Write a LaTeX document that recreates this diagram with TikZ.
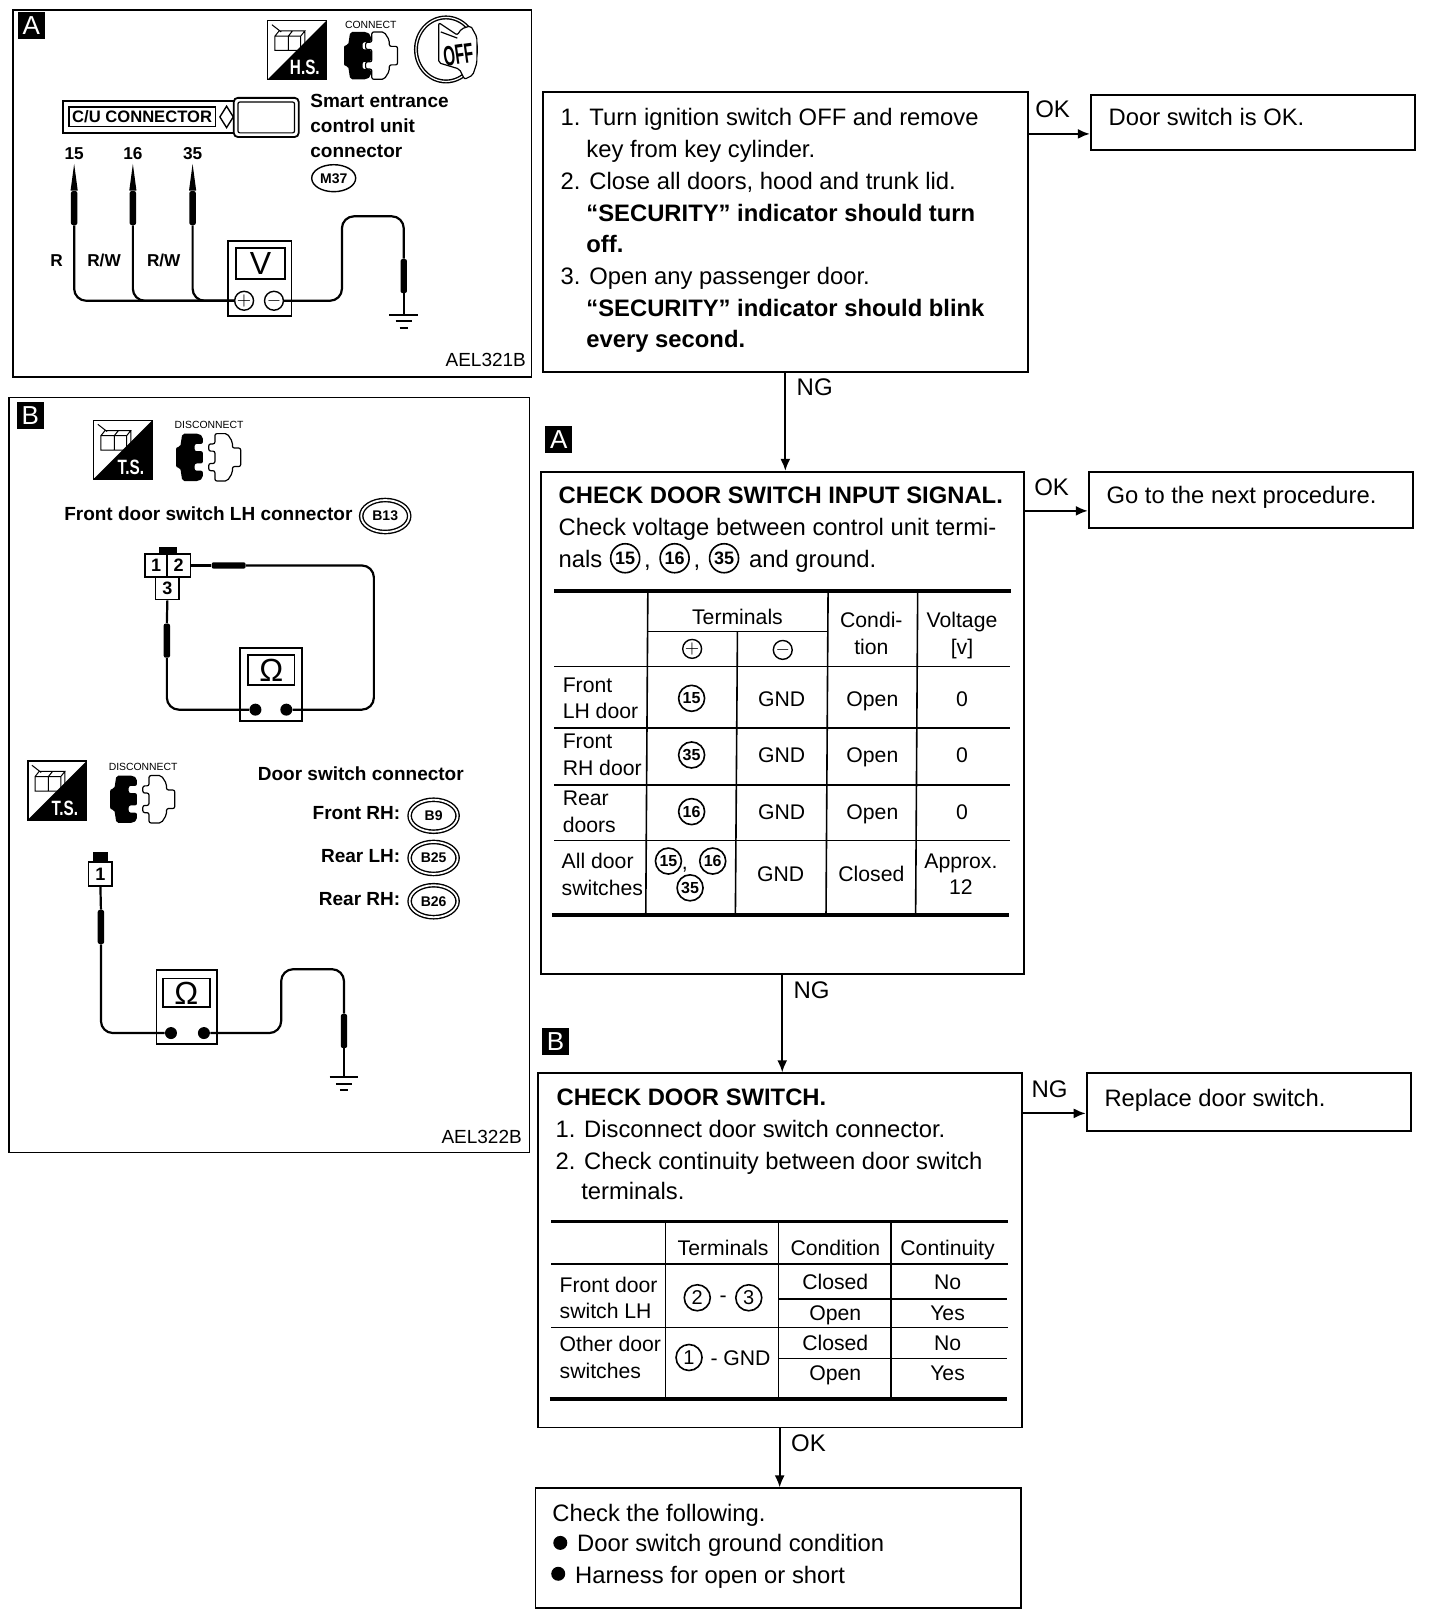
\documentclass[tikz,border=0pt]{standalone}
\usepackage{fontspec}
\setmainfont{Liberation Sans}
\usepackage{amsmath,amssymb}
\usetikzlibrary{arrows.meta,fit,shapes.geometric}

\tikzset{
	box/.style={draw,line width=0.9pt,inner sep=0pt},
	txt/.style={anchor=base west,inner sep=0pt,font=\fontsize{11.9}{14}\selectfont},
	btxt/.style={txt,font=\fontsize{11.9}{14}\selectfont\bfseries},
	panel/.style={anchor=base west,inner sep=0pt,font=\fontsize{9.5}{12}\selectfont\bfseries},
	cell/.style={inner sep=0pt,align=center,font=\fontsize{10.6}{13.2}\selectfont},
	cellb/.style={cell,anchor=base},
	rowhead/.style={cell,anchor=west,align=left},
	okno/.style={inner sep=0pt,font=\fontsize{12}{14}\selectfont},
	tag/.style={fill=black,text=white,inner sep=0pt,minimum size=13.5pt,font=\fontsize{13}{14}\selectfont},
	tiny/.style={inner sep=0pt,font=\fontsize{5.2}{6}\selectfont},
	iconlab/.style={text=white,inner sep=0pt,font=\fontsize{9}{10}\selectfont\bfseries},
	small/.style={inner sep=0pt,font=\fontsize{8.6}{10}\selectfont\bfseries},
	pinno/.style={inner sep=0pt,font=\fontsize{9}{10}\selectfont\bfseries},
	read/.style={inner sep=0pt,font=\fontsize{16}{17}\selectfont},
	flow/.style={line width=0.9pt,-{Latex[length=6pt,width=5pt]}},
	rule/.style={line width=0.8pt},
	fatrule/.style={line width=1.9pt},
	wire/.style={line width=1.1pt,rounded corners=6pt},
	probe/.style={fill=black,rounded corners=1pt,inner sep=0pt,minimum width=3.2pt,minimum height=17pt},
	term/.style={circle,draw,line width=0.8pt,inner sep=0pt,minimum size=13pt,font=\fontsize{8}{9}\selectfont\bfseries},
	numb/.style={term,font=\fontsize{10}{11}\selectfont},
	sign/.style={circle,draw,line width=0.7pt,inner sep=0pt,minimum size=8.5pt,font=\fontsize{9}{9}\selectfont},
	pole/.style={circle,fill=black,inner sep=0pt,minimum size=6pt},
	unit/.style={ellipse,draw,line width=0.7pt,inner sep=0pt,minimum width=22pt,minimum height=13.5pt,font=\fontsize{7}{8}\selectfont\bfseries},
	harness/.style={unit,double,double distance=0.9pt,minimum width=24pt,minimum height=16pt},
	ground/.pic={
		\foreach \w/\d in {14/0,8/6,4/12}
		\draw[line width=1pt] (-\w,\d) -- (\w,\d);
	},
	plug/.pic={
		\fill[rounded corners=1pt] (-20,-23) -- (-4,-23) -- (0,-20) -- (0,-13) -- (-8,-13) -- (-8,-6) -- (0,-6) -- (0,6) -- (-8,6) -- (-8,13) -- (0,13) -- (0,20) -- (-4,23) -- (-20,23) -- (-22,10) -- (-26,10) -- (-26,-10) -- (-22,-10) -- cycle;
		\filldraw[fill=white,line width=0.6pt,rounded corners=1pt,xshift=#1] (1,-23) -- (13,-23) -- (18,-15) -- (18,-9) -- (26,-9) -- (26,9) -- (18,9) -- (18,15) -- (13,23) -- (1,23) -- (1,13) -- (-5,13) -- (-5,6) -- (1,6) -- (1,-6) -- (-5,-6) -- (-5,-13) -- (1,-13) -- cycle;
	},
	hand/.pic={
		\draw[line width=0.7pt] (-57,-57) rectangle (0,0);
		\fill (0,-57) -- (0,0) -- (-57,0) -- cycle;
		\draw[line width=0.5pt] (-50,-42) rectangle (-37,-28) (-37,-42) rectangle (-25,-28) (-50,-42) -- (-46,-47) -- (-33,-47) -- (-37,-42) (-33,-47) -- (-21,-47) -- (-25,-42) (-21,-47) -- (-21,-33) -- (-25,-28) (-53,-53) -- (-44,-46);
	},
}

\begin{document}
\begin{tikzpicture}[x=0.515pt,y=-0.515pt]
	\useasboundingbox (-1,-1) rectangle (1397.06,1568);
	
	% panel A
	\node[box,fit={(12,9) (515,365)}] (panelA) {};
	\node[tag] (tagA) at (29.5,24) {A};
	\pic at (316,76) {hand};
	\node[iconlab] (hsA) at (295,64) {\scalebox{0.85}[1.15]{H.S.}};
	\node[tiny] (conA) at (359,23) {CONNECT};
	\pic at (359,53) {plug=0pt};
	\node[ellipse,draw,double,line width=0.7pt,minimum width=30pt,minimum height=32pt,inner sep=0pt] (keyA) at (432,47) {};
	\filldraw[fill=white,line width=0.6pt,rounded corners=1pt] (425,21) -- (425,60) -- (445,66) -- (450,76) -- (458,72) -- (462,60) -- (462,35) -- (456,24) -- (447,27) -- (443,33) -- cycle;
	\draw[line width=0.6pt] (427,30) -- (443,36);
	\node[rotate=8,inner sep=0pt,font=\fontsize{10}{12}\selectfont\bfseries] (offA) at (444,52) {\scalebox{0.75}[1.4]{OFF}};
	
	\node[box,fit={(60,97) (228,128)}] (cuA) {};
	\node[box,line width=0.7pt,fit={(66,103) (208,122)}] (cuB) {};
	\node[inner sep=0pt,font=\fontsize{8.3}{10}\selectfont\bfseries] (cuT) at (cuB.center) {C/U CONNECTOR};
	\node[diamond,draw,line width=0.7pt,inner sep=0pt,minimum width=7pt,minimum height=11pt] (cuD) at (219,112.5) {};
	\node[box,rounded corners=2pt,fill=white,fit={(226,94) (289,132)}] (cuE) {};
	\node[box,line width=0.6pt,rounded corners=1pt,fit={(230,98) (285,128)}] (cuF) {};
	
	\node[panel] (smartA) at (300,103) {Smart entrance};
	\node[panel] (smartB) at (300,128) {control unit};
	\node[panel] (smartC) at (300,152) {connector};
	\node[unit] (mUnit) at (323,172) {M37};
	
	\foreach \x/\t in {71/15,128/16,186/35}{
		\node[small] (l\t) at (\x,148) {\t};
		\node[probe] (p\t) at (\x,201) {};
		\fill (p\t.north west) -- ([yshift=-2pt]l\t.south) -- (p\t.north east) -- cycle;
	}
	\foreach \x/\t in {54/R,100/{R/W},158/{R/W}}
	\node[small] (w\x) at (\x,252) {\t};
	
	\node[box,fit={(220,233) (282,306)}] (vmeter) {};
	\node[box,fit={(228,240) (276,270)}] (vface) {};
	\node[read] (vchar) at (vface.center) {V};
	\node[sign] (vplus) at (236,291) {$+$};
	\node[sign] (vminus) at (265,291) {$-$};
	\foreach \t in {15,16,35}
	\draw[wire] (p\t.south) |- (vplus.west);
	
	\node[probe] (pgA) at (391,267) {};
	\coordinate (gndA) at (391,305);
	\draw[wire] (vminus.east) -| (331,209) -| (pgA.north);
	\draw[wire] (pgA.south) -- (gndA);
	\pic at (gndA) {ground};
	\node[anchor=east,inner sep=0pt,font=\fontsize{9.5}{11}\selectfont] (codeA) at (510,348) {AEL321B};
	
	% panel B
	\node[box,fit={(8,385) (513,1118)}] (panelB) {};
	\node[tag] (tagB) at (28.5,402) {B};
	\pic at (147,464) {hand};
	\node[iconlab] (tsA) at (126,453) {\scalebox{0.85}[1.15]{T.S.}};
	\node[tiny] (disA) at (202,412) {DISCONNECT};
	\pic at (196,443) {plug=5.5pt};
	\node[panel] (frontB) at (61,504) {Front door switch LH connector};
	\node[harness] (bth) at (373,500) {B13};
	
	\node[box,fit={(140,537) (161,559)}] (pinA) {};
	\node[box,fit={(161,537) (184,559)}] (pinB) {};
	\node[box,fit={(150,559) (173,581)}] (pinC) {};
	\fill (153,530) rectangle (171,537);
	\node[pinno] (nA) at (pinA.center) {1};
	\node[pinno] (nB) at (pinB.center) {2};
	\node[pinno] (nC) at (pinC.center) {3};
	
	\node[box,fit={(232,628) (292,699)}] (omA) {};
	\node[box,fit={(240,635) (285,664)}] (faceA) {};
	\node[read] (omegaA) at (faceA.center) {Ω};
	\node[pole] (omAp) at (247,688) {};
	\node[pole] (omAm) at (277,688) {};
	\node[probe,minimum height=3.2pt,minimum width=17pt] (ph) at (221,548) {};
	\node[probe] (pv) at (161,621) {};
	\draw[wire] (pinB.east) -- (ph.west);
	\draw[wire] (ph.east) -- (362,548) |- (omAm.east);
	\draw[wire] (pinC.south) -- (pv.north);
	\draw[wire] (pv.south) |- (omAp.west);
	
	\pic at (83,795) {hand};
	\node[iconlab] (tsB) at (62,784) {\scalebox{0.85}[1.15]{T.S.}};
	\node[tiny] (disB) at (138,744) {DISCONNECT};
	\pic at (132,775) {plug=5.5pt};
	\node[panel] (doorB) at (249,757) {Door switch connector};
	\foreach \y/\t/\u in {795/Front RH:/B9,836/Rear LH:/B25,878/Rear RH:/B26}{
		\node[panel,anchor=base east] (h\u) at (388,\y) {\t};
		\node[harness] (c\u) at (420,\y-4) {\u};
	}
	
	\node[box,fit={(85,836) (108,859)}] (pinD) {};
	\fill (89,826) rectangle (104,836);
	\node[pinno] (nD) at (pinD.center) {1};
	\node[box,fit={(151,941) (210,1013)}] (omB) {};
	\node[box,fit={(157,949) (203,977)}] (faceB) {};
	\node[read] (omegaB) at (faceB.center) {Ω};
	\node[pole] (omBp) at (165,1002) {};
	\node[pole] (omBm) at (197,1002) {};
	\node[probe] (pd) at (97,899) {};
	\node[probe] (pgB) at (333,1000) {};
	\coordinate (gndB) at (333,1045);
	\draw[wire] (pinD.south) -- (pd.north);
	\draw[wire] (pd.south) |- (omBp.west);
	\draw[wire] (omBm.east) -| (272,940) -| (pgB.north);
	\draw[wire] (pgB.south) -- (gndB);
	\pic at (gndB) {ground};
	\node[anchor=east,inner sep=0pt,font=\fontsize{9.5}{11}\selectfont] (codeB) at (506,1103) {AEL322B};
	
	% first check
	\node[box,fit={(526,88) (997,360)}] (turn) {};
	\foreach \x/\y/\t in {543/121/1. Turn ignition switch OFF and remove,568/152/key from key cylinder.,543/183/{2. Close all doors, hood and trunk lid.},543/275/3. Open any passenger door.}
	\node[txt] (turn\y) at (\x,\y) {\t};
	\foreach \y/\t in {214/“SECURITY” indicator should turn,244/off.,306/“SECURITY” indicator should blink,336/every second.}
	\node[btxt] (turn\y) at (568,\y) {\t};
	
	\node[box,fit={(1058,91) (1373,145)}] (doorok) {};
	\node[txt] (doorokt) at (1075,121) {Door switch is OK.};
	\coordinate (okA) at (997,129);
	\draw[flow] (okA) -- (okA -| doorok.west);
	\node[okno] (okAl) at (1021,105) {OK};
	
	% check input signal
	\node[tag] (tagC) at (541.5,426) {A};
	\node[box,fit={(524,457) (993,945)}] (signal) {};
	\draw[flow] (turn.south) -- (turn.south |- signal.north);
	\node[okno] (ngAl) at (790,375) {NG};
	\node[btxt] (sigA) at (541,488) {CHECK DOOR SWITCH INPUT SIGNAL.};
	\node[txt] (sigB) at (541,519) {Check voltage between control unit termi-};
	\node[txt] (sigC) at (541,550) {nals};
	\foreach \x/\t in {606/15,654/16,702/35}
	\node[term,minimum size=14.5pt,font=\fontsize{9}{10}\selectfont\bfseries] (s\t) at (\x,541) {\t};
	\node[txt] (sigD) at (624,550) {,};
	\node[txt] (sigE) at (672,550) {,};
	\node[txt] (sigF) at (726,550) {and ground.};
	
	\node[box,fit={(1056,457) (1371,512)}] (next) {};
	\node[txt] (nextt) at (1073,488) {Go to the next procedure.};
	\coordinate (okB) at (993,495);
	\draw[flow] (okB) -- (okB -| next.west);
	\node[okno] (okBl) at (1020,472) {OK};
	
	\draw[fatrule] (537,573) -- (981,573);
	\draw[fatrule] (535,887) -- (979,887);
	\draw[rule] (627,612) -- (803,612);
	\foreach \y in {646,706,761,815}
	\draw[rule] (537,\y) -- (980,\y);
	\draw[rule] (628,573) -- (626,887);
	\draw[rule] (715,612) -- (713,887);
	\draw[rule] (803,573) -- (801,887);
	\draw[rule] (890,573) -- (888,887);
	
	\node[cell] (hTerm) at (715,598) {Terminals};
	\node[sign,minimum size=9pt] (hPlus) at (671,629) {$+$};
	\node[sign,minimum size=9pt] (hMinus) at (759,630) {$-$};
	\node[cell] (hCond) at (845,614) {Condi-\\tion};
	\node[cell] (hVolt) at (933,616) {Voltage\\{[v]}};
	\foreach \y/\t/\n in {678/{Front\\LH door}/15,733/{Front\\RH door}/35,788/{Rear\\doors}/16}{
		\node[rowhead] (r\y) at (545,\y-1) {\t};
		\node[term] (t\y) at (670.5,\y-1) {\n};
		\node[cellb] (g\y) at (758,\y+6.5) {GND};
		\node[cellb] (o\y) at (846,\y+6.5) {Open};
		\node[cellb] (v\y) at (933,\y+6.5) {0};
	}
	\node[rowhead] (r848) at (544,848) {All door\\switches};
	\node[term] (ta) at (648,835) {15};
	\node[cell] (tc) at (664,843) {,};
	\node[term] (tb) at (691,835) {16};
	\node[term] (td) at (669,861) {35};
	\node[cellb] (g848) at (757,854.5) {GND};
	\node[cellb] (o848) at (845,854.5) {Closed};
	\node[cell] (v848) at (932,848) {Approx.\\12};
	
	% check door switch
	\node[tag] (tagD) at (538.5,1010) {B};
	\node[box,fit={(521,1041) (991,1385)}] (check) {};
	\draw[flow] (signal.south) -- (signal.south |- check.north);
	\node[okno] (ngBl) at (787,960) {NG};
	\node[btxt] (chkA) at (539,1072) {CHECK DOOR SWITCH.};
	\node[txt] (chkB) at (538,1103) {1. Disconnect door switch connector.};
	\node[txt] (chkC) at (538,1134) {2. Check continuity between door switch};
	\node[txt] (chkD) at (563,1164) {terminals.};
	
	\node[box,fit={(1054,1041) (1369,1097)}] (replace) {};
	\node[txt] (replacet) at (1071,1073) {Replace door switch.};
	\coordinate (ngC) at (991,1080);
	\draw[flow] (ngC) -- (ngC -| replace.west);
	\node[okno] (ngCl) at (1018,1057) {NG};
	
	\draw[fatrule] (534,1185) -- (978,1185);
	\draw[fatrule] (533,1357) -- (977,1357);
	\foreach \y in {1226,1288}
	\draw[rule] (534,\y) -- (978,\y);
	\foreach \y in {1260,1318}
	\draw[rule] (755,\y) -- (977,\y);
	\foreach \x in {645,755,864}
	\draw[rule] (\x,1185) -- (\x,1357);
	
	\foreach \x/\t in {701/Terminals,810/Condition,919/Continuity}
	\node[cellb] (c\x) at (\x,1217.5) {\t};
	\node[rowhead] (cFront) at (542,1259) {Front door\\switch LH};
	\node[rowhead] (cOther) at (542,1317) {Other door\\switches};
	\node[numb] (nTwo) at (676,1259) {2};
	\node[cell] (nDash) at (701,1260) {-};
	\node[numb] (nThree) at (726,1259) {3};
	\node[numb] (nOne) at (668,1317) {1};
	\node[cell] (nGnd) at (718,1318) {- GND};
	\foreach \y/\a/\b in {1245/Closed/No,1275/Open/Yes,1304/Closed/No,1333/Open/Yes}{
		\node[cellb] (a\y) at (810,\y+6) {\a};
		\node[cellb] (b\y) at (919,\y+6) {\b};
	}
	
	% last box
	\node[box,fit={(519,1444) (990,1560)}] (final) {};
	\draw[flow] (check.south) -- (check.south |- final.north);
	\node[okno] (okCl) at (784,1400) {OK};
	\node[txt] (finA) at (535,1476) {Check the following.};
	\node[circle,fill=black,inner sep=0pt,minimum size=7pt] (bulA) at (543,1497) {};
	\node[txt] (finB) at (559,1505) {Door switch ground condition};
	\node[circle,fill=black,inner sep=0pt,minimum size=7pt] (bulB) at (541,1527) {};
	\node[txt] (finC) at (557,1536) {Harness for open or short};
\end{tikzpicture}
\end{document}
